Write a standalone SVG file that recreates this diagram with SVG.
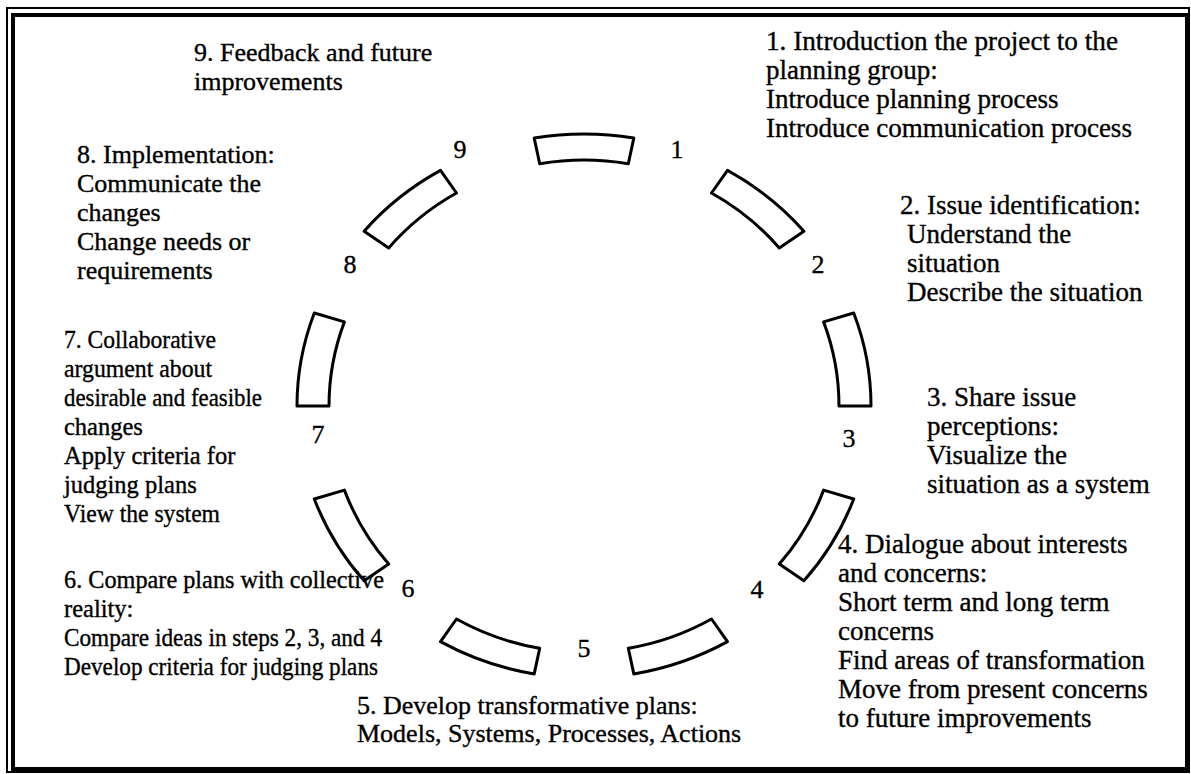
<svg xmlns="http://www.w3.org/2000/svg" width="1191" height="774" viewBox="0 0 1191 774">
  <style>
    .frame-outer { fill: none; stroke: #000; stroke-width: 2; }
    .frame-inner { fill: none; stroke: #000; stroke-width: 4; }
    .seg { fill: #fff; stroke: #000; stroke-width: 3; stroke-linejoin: round; }
    text { font-family: "Liberation Serif", "Times New Roman", serif; font-size: 26px; fill: #000; stroke: #000; stroke-width: 0.35; }
    .num { text-anchor: middle; }
    .right text { font-size: 27px; }
    .left text { font-size: 24.5px; }
  </style>

  <rect width="1191" height="774" fill="#fff"/>

  <!-- double frame -->
  <g id="frame">
    <rect class="frame-outer" x="7" y="8" width="1182" height="764"/>
    <rect class="frame-inner" x="13" y="15" width="1174" height="754"/>
  </g>

  <!-- ring of nine curved step segments (ellipse centre 584,406) -->
  <g id="ring">
    <g id="seg-9-1"><path class="seg" d="M534.2,138.1 A287,272 0 0 1 633.8,138.1 L628.3,163.7 A255,246 0 0 0 539.7,163.7 Z"/></g>
    <g id="seg-1-2"><path class="seg" d="M727.5,170.4 A287,272 0 0 1 803.9,231.2 L779.3,247.9 A255,246 0 0 0 711.5,193.0 Z"/></g>
    <g id="seg-2-3"><path class="seg" d="M853.7,313.0 A287,272 0 0 1 871.0,406.0 L839.0,406.0 A255,246 0 0 0 823.6,321.9 Z"/></g>
    <g id="seg-3-4"><path class="seg" d="M853.7,499.0 A287,272 0 0 1 803.9,580.8 L779.3,564.1 A255,246 0 0 0 823.6,490.1 Z"/></g>
    <g id="seg-4-5"><path class="seg" d="M727.5,641.6 A287,272 0 0 1 633.8,673.9 L628.3,648.3 A255,246 0 0 0 711.5,619.0 Z"/></g>
    <g id="seg-5-6"><path class="seg" d="M534.2,673.9 A287,272 0 0 1 440.5,641.6 L456.5,619.0 A255,246 0 0 0 539.7,648.3 Z"/></g>
    <g id="seg-6-7"><path class="seg" d="M364.1,580.8 A287,272 0 0 1 314.3,499.0 L344.4,490.1 A255,246 0 0 0 388.7,564.1 Z"/></g>
    <g id="seg-7-8"><path class="seg" d="M297.0,406.0 A287,272 0 0 1 314.3,313.0 L344.4,321.9 A255,246 0 0 0 329.0,406.0 Z"/></g>
    <g id="seg-8-9"><path class="seg" d="M364.1,231.2 A287,272 0 0 1 440.5,170.4 L456.5,193.0 A255,246 0 0 0 388.7,247.9 Z"/></g>
  </g>

  <!-- step numbers between the segments -->
  <g id="numbers">
    <text class="num" x="677" y="158">1</text>
    <text class="num" x="818" y="273">2</text>
    <text class="num" x="849" y="447">3</text>
    <text class="num" x="757" y="598">4</text>
    <text class="num" x="584" y="657">5</text>
    <text class="num" x="408" y="597">6</text>
    <text class="num" x="318" y="443">7</text>
    <text class="num" x="350" y="273">8</text>
    <text class="num" x="460" y="158">9</text>
  </g>

  <!-- step descriptions, right-hand column -->
  <g class="right">
    <g id="step-1">
      <text x="766" y="50" textLength="352" lengthAdjust="spacingAndGlyphs">1. Introduction the project to the</text>
      <text x="766" y="79">planning group:</text>
      <text x="766" y="108">Introduce planning process</text>
      <text x="766" y="137">Introduce communication process</text>
    </g>
    <g id="step-2">
      <text x="900" y="214">2. Issue identification:</text>
      <text x="907" y="243">Understand the</text>
      <text x="907" y="272">situation</text>
      <text x="907" y="301">Describe the situation</text>
    </g>
    <g id="step-3">
      <text x="927" y="406">3. Share issue</text>
      <text x="927" y="435">perceptions:</text>
      <text x="927" y="464">Visualize the</text>
      <text x="927" y="493">situation as a system</text>
    </g>
    <g id="step-4">
      <text x="838" y="553">4. Dialogue about interests</text>
      <text x="838" y="582">and concerns:</text>
      <text x="838" y="611">Short term and long term</text>
      <text x="838" y="640">concerns</text>
      <text x="838" y="669">Find areas of transformation</text>
      <text x="838" y="698">Move from present concerns</text>
      <text x="838" y="727">to future improvements</text>
    </g>
  </g>

  <g id="step-5">
    <text x="357" y="714">5. Develop transformative plans:</text>
    <text x="357" y="742">Models, Systems, Processes, Actions</text>
  </g>

  <!-- step descriptions, left-hand column -->
  <g class="left">
    <g id="step-6">
      <text x="64" y="588" textLength="320" lengthAdjust="spacingAndGlyphs">6. Compare plans with collective</text>
      <text x="64" y="617">reality:</text>
      <text x="64" y="646" textLength="318" lengthAdjust="spacingAndGlyphs">Compare ideas in steps 2, 3, and 4</text>
      <text x="64" y="675" textLength="314" lengthAdjust="spacingAndGlyphs">Develop criteria for judging plans</text>
    </g>
    <g id="step-7">
      <text x="64" y="348" textLength="152" lengthAdjust="spacingAndGlyphs">7. Collaborative</text>
      <text x="64" y="377" textLength="148" lengthAdjust="spacingAndGlyphs">argument about</text>
      <text x="64" y="406" textLength="198" lengthAdjust="spacingAndGlyphs">desirable and feasible</text>
      <text x="64" y="435">changes</text>
      <text x="64" y="464">Apply criteria for</text>
      <text x="64" y="493">judging plans</text>
      <text x="64" y="522" textLength="156" lengthAdjust="spacingAndGlyphs">View the system</text>
    </g>
  </g>

  <g id="step-8">
    <text x="77" y="163">8. Implementation:</text>
    <text x="77" y="192">Communicate the</text>
    <text x="77" y="221">changes</text>
    <text x="77" y="250">Change needs or</text>
    <text x="77" y="279">requirements</text>
  </g>
  <g id="step-9">
    <text x="194" y="61">9. Feedback and future</text>
    <text x="194" y="90">improvements</text>
  </g>
</svg>
